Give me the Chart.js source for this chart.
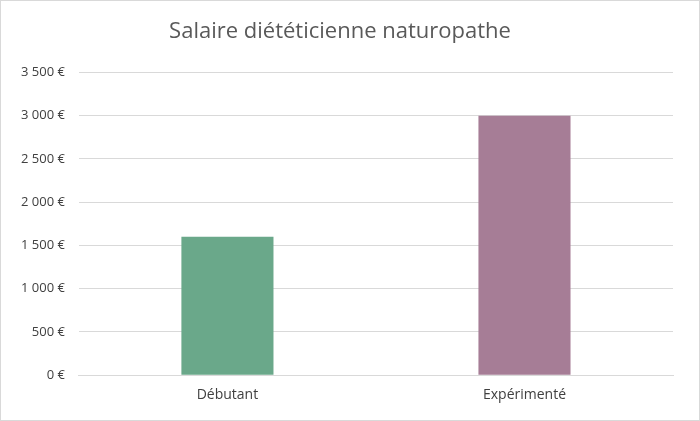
<!DOCTYPE html>
<html><head><meta charset="utf-8">
<script src="https://cdn.jsdelivr.net/npm/chart.js@4"></script>
<style>html,body{margin:0;padding:0;background:#fff}
#w{width:698px;height:419px;border:1px solid #d9d9d9;position:relative}</style>
</head><body><div id="w"><canvas id="c"></canvas></div>
<script>
const categories = ["Débutant", "Expérimenté"];
const salaries = [1600, 3000];
const barColors = ["#6aa88a", "#a67d96"];
new Chart(document.getElementById('c'), {
  type: 'bar',
  data: { labels: categories, datasets: [{ data: salaries, backgroundColor: barColors, categoryPercentage: 1, barPercentage: 0.31 }] },
  options: {
    responsive: true, maintainAspectRatio: false, animation: false,
    layout: { padding: { left: 6, right: 26, top: 12, bottom: 14 } },
    plugins: { legend: { display: false }, tooltip: { enabled: false },
      title: { display: true, text: 'Salaire diététicienne naturopathe', color: '#595959',
        font: { family: 'Open Sans', size: 22, weight: 'normal' }, padding: { top: 6, bottom: 27 } } },
    scales: {
      x: { grid: { display: false }, border: { color: '#d9d9d9' },
        ticks: { color: '#404040', font: { family: 'Open Sans', size: 14 } } },
      y: { min: 0, max: 3500, border: { display: false },
        grid: { color: '#d9d9d9', drawTicks: false },
        ticks: { stepSize: 500, padding: 14, color: '#404040', font: { family: 'Open Sans', size: 13 },
          callback: v => v.toLocaleString('fr-FR').replace(/\u202f/g, ' ') + ' €' } }
    }
  }
});
</script></body></html>
